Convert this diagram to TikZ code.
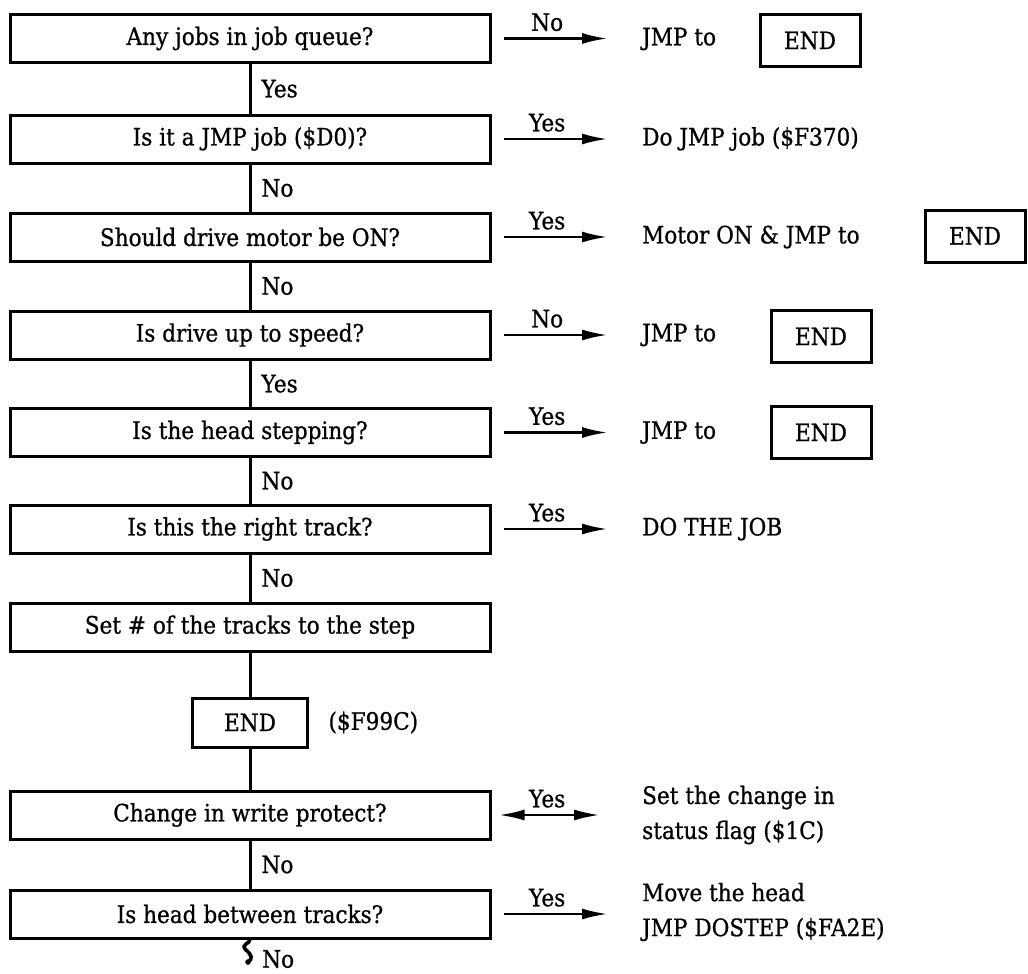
\documentclass[tikz,border=0pt]{standalone}
\usepackage{fontspec}
\setmainfont{DejaVu Serif}[FakeStretch=0.9,FakeBold=0.8]
\usepackage{tikz}
\usetikzlibrary{arrows.meta,positioning}
\tikzstyle{question}=[
	draw=black,
	rectangle,
	line width=3pt,
	minimum width=480pt,
	minimum height=48pt,
	inner sep=0pt]
\tikzstyle{stopbox}=[
	draw=black,
	rectangle,
	line width=3pt,
	minimum width=100pt,
	minimum height=52pt]
\tikzstyle{action}=[
	anchor=west,
	align=left,
	inner sep=0pt]
\tikzstyle{answer}=[
	inner sep=2pt]
\tikzstyle{flow}=[
	line width=3pt]
\tikzstyle{branch}=[
	-{Latex[length=26pt,width=11pt]},
	line width=2.8pt,
	shorten <=12pt,
	shorten >=34pt]

\begin{document}
\begin{tikzpicture}[x=1pt,y=-1pt,font=\fontsize{24}{35}\selectfont]
	\useasboundingbox (0,0) rectangle (1028,974);
	\begin{scope}
		\node[question]	(q1)	at (250,38.5)	{Any jobs in job queue?};
		\node[question]	(q2)	at (250,139)	{Is it a JMP job (\$D0)?};
		\node[question]	(q3)	at (250,237)	{Should drive motor be ON?};
		\node[question]	(q4)	at (250,335)	{Is drive up to speed?};
		\node[question]	(q5)	at (250,432.5)	{Is the head stepping?};
		\node[question]	(q6)	at (250,529)	{Is this the right track?};
		\node[question]	(q7)	at (250,627)	{Set \# of the tracks to the step};
		\node[stopbox,minimum width=115pt,minimum height=49pt]	(endc)	at (250,722.5)	{END};
		\node[right=16pt of endc]	(addr)	{(\$F99C)};
		\node[question]	(q8)	at (250,815)	{Change in write protect?};
		\node[question]	(q9)	at (250,914)	{Is head between tracks?};
	\end{scope}
	\begin{scope}
		\draw[flow] (q1) -- (q2) node[answer,midway,right=8pt]{Yes};
		\draw[flow] (q2) -- (q3) node[answer,midway,right=8pt]{No};
		\draw[flow] (q3) -- (q4) node[answer,midway,right=8pt]{No};
		\draw[flow] (q4) -- (q5) node[answer,midway,right=8pt]{Yes};
		\draw[flow] (q5) -- (q6) node[answer,midway,right=8pt]{No};
		\draw[flow] (q6) -- (q7) node[answer,midway,right=8pt]{No};
		\draw[flow] (q7) -- (endc);
		\draw[flow] (endc) -- (q8);
		\draw[flow] (q8) -- (q9) node[answer,midway,right=8pt]{No};
		\draw[flow,line width=3.6pt] (q9.south) .. controls (250,944) and (240,944) .. (246,950)
			.. controls (252,955) and (253,959) .. (248,962) coordinate (tail);
		\fill (tail) circle (2.8pt);
		\node[answer,right=12pt of tail,yshift=3pt]	(noend)	{No};
	\end{scope}
	\begin{scope}
		\node[action]	(a1)	at (642,39)	{JMP to};
		\node[stopbox]	(e1)	at (810,40.5)	{END};
		\node[action]	(a2)	at (642,139)	{Do JMP job (\$F370)};
		\node[action]	(a3)	at (642,237)	{Motor ON \& JMP to};
		\node[stopbox]	(e3)	at (975,236)	{END};
		\node[action]	(a4)	at (642,335)	{JMP to};
		\node[stopbox]	(e4)	at (821,336.5)	{END};
		\node[action]	(a5)	at (642,432.5)	{JMP to};
		\node[stopbox]	(e5)	at (821,432.5)	{END};
		\node[action]	(a6)	at (642,529)	{DO THE JOB};
		\node[action]	(a8)	at (642,815)	{Set the change in\\status flag (\$1C)};
		\node[action]	(a9)	at (642,912)	{Move the head\\JMP DOSTEP (\$FA2E)};
	\end{scope}
	\begin{scope}
		\draw[branch] (q1.east) -- (q1.east -| a1.west) node[answer,above=4pt,pos=.37]{No};
		\draw[branch] (q2.east) -- (q2.east -| a2.west) node[answer,above=4pt,pos=.37]{Yes};
		\draw[branch] (q3.east) -- (q3.east -| a3.west) node[answer,above=4pt,pos=.37]{Yes};
		\draw[branch] (q4.east) -- (q4.east -| a4.west) node[answer,above=4pt,pos=.37]{No};
		\draw[branch] (q5.east) -- (q5.east -| a5.west) node[answer,above=4pt,pos=.37]{Yes};
		\draw[branch] (q6.east) -- (q6.east -| a6.west) node[answer,above=4pt,pos=.37]{Yes};
		\draw[branch,{Latex[length=26pt,width=11pt]}-{Latex[length=26pt,width=11pt]},shorten <=7pt,shorten >=42pt]
			(q8.east) -- (q8.east -| a8.west) node[answer,above=4pt,pos=.37]{Yes};
		\draw[branch] (q9.east) -- (q9.east -| a9.west) node[answer,above=4pt,pos=.37]{Yes};
	\end{scope}
\end{tikzpicture}
\end{document}
